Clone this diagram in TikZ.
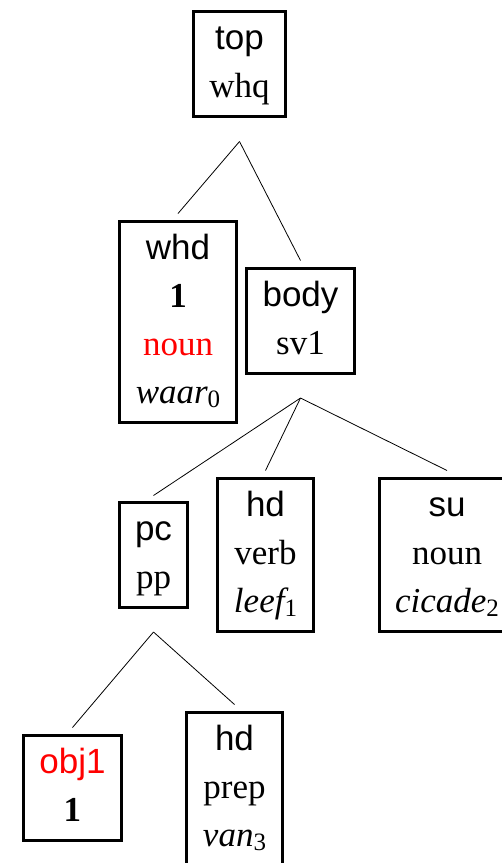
\documentclass[tikz,border=0pt]{standalone}
\usepackage{fontspec}
\setmainfont{Liberation Serif}
\setsansfont{Liberation Sans}
\usepackage{tikz}
\usetikzlibrary{shapes, arrows}
\newcommand{\idx}[1]{\raisebox{-4pt}{\fontsize{25}{25}\selectfont #1}}
\tikzstyle{cat} = [rectangle, draw=black, line width=3pt, inner xsep=16pt, inner ysep=4.5pt, align=center, font=\fontsize{35}{48}\selectfont]
\tikzstyle{line} = [draw, line width=0.8pt]

\begin{document}
\begin{tikzpicture}[node distance=234pt, auto]
            \useasboundingbox (0,0) rectangle (502pt,-863pt);

            % Nodes of tree
            % Top level
            \node (top) [cat] at (239.5pt,-64pt) {\strut\textsf{top}\\whq\strut};
            \node (whd) [cat, below of=top, xshift=-61.5pt, yshift=-23.5pt] {\strut\textsf{whd}\\\textbf{1}\\\textcolor{red}{noun}\\{\itshape waar}\idx{0}\strut};
            \node (body) [cat, below of=top, xshift=61pt, yshift=-22.5pt] {\strut\textsf{body}\\sv1\strut};

            % Body level
            \node (pc) [cat, below of=body, xshift=-147pt] {\strut\textsf{pc}\\pp\strut};
            \node (hd_v) [cat, below of=body, xshift=-35pt] {\strut\textsf{hd}\\verb\\{\itshape leef}\idx{1}\strut};
            \node (su) [cat, below of=body, xshift=146.5pt] {\strut\textsf{su}\\noun\\{\itshape cicade}\idx{2}\strut};

            % PP level
            \node (obj1) [cat, below of=pc, xshift=-81pt, yshift=1pt] {\strut\textcolor{red}{\textsf{obj1}}\\\textbf{1}\strut};
            \node (hd_p) [cat, below of=pc, xshift=81pt] {\strut\textsf{hd}\\prep\\{\itshape van}\idx{3}\strut};

            % Branch points
            \coordinate (top_b) at ([yshift=-23.5pt] top.south);
            \coordinate (body_b) at ([yshift=-23.5pt] body.south);
            \coordinate (pc_b) at ([yshift=-23.5pt] pc.south);

            % Draw lines
            \path [line] (top_b) -- ([yshift=6pt] whd.north);
            \path [line] (top_b) -- ([yshift=6pt] body.north);
            \path [line] (body_b) -- ([yshift=5pt] pc.north);
            \path [line] (body_b) -- ([yshift=6pt] hd_v.north);
            \path [line] (body_b) -- ([yshift=6pt] su.north);
            \path [line] (pc_b) -- ([yshift=6pt] obj1.north);
            \path [line] (pc_b) -- ([yshift=6pt] hd_p.north);
        \end{tikzpicture}
\end{document}
